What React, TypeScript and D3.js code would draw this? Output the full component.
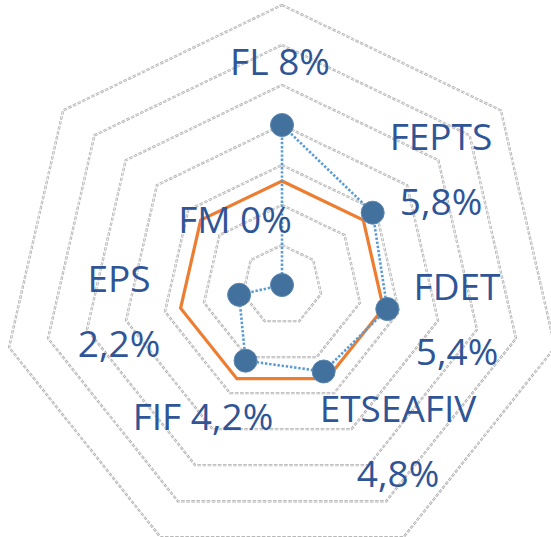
import React from "react";
import * as d3 from "d3";

const categories = ["FL", "FEPTS", "FDET", "ETSEAFIV", "FIF", "EPS", "FM"];
const seriesValues = [8, 5.8, 5.4, 4.8, 4.2, 2.2, 0];
const referenceValues = [5.2, 5.2, 5.2, 5.2, 5.2, 5.2, 5.2];
const valueLabels = ["8%", "5,8%", "5,4%", "4,8%", "4,2%", "2,2%", "0%"];
const gridTicks = [2, 4, 6, 8, 10, 12, 14];
// label layout: two-line or single-line, anchor offset relative to centre
const labelTwoLine = [false, true, true, true, false, true, false];
const labelAnchors: [number, number][] = [
  [-2, -210],
  [159, -135],
  [175, 15],
  [116, 137],
  [-79, 145],
  [-163, 7],
  [-47, -52],
];

const W = 551;
const H = 537;
const cx = 282;
const cy = 285;
const maxR = 280;

export default function App() {
  const r = d3.scaleLinear().domain([0, 14]).range([0, maxR]);
  const n = categories.length;
  const angle = (i: number) => (i * 2 * Math.PI) / n;
  const pt = (i: number, v: number): [number, number] => [
    cx + r(v) * Math.sin(angle(i)),
    cy - r(v) * Math.cos(angle(i)),
  ];
  const line = d3
    .lineRadial<number>()
    .angle((_, i) => angle(i))
    .radius((d) => r(d))
    .curve(d3.curveLinearClosed);

  const gridPath = (t: number) => line(categories.map(() => t)) || "";

  return (
    <svg
      width={W}
      height={H}
      style={{ position: "absolute", left: 0, top: 0, background: "#fff" }}
    >
      <g transform={`translate(${cx},${cy})`}>
        {gridTicks.map((t) => (
          <g key={t}>
            <path
              d={gridPath(t)}
              fill="none"
              stroke="#a9a9a9"
              strokeWidth={2.3}
              strokeDasharray="3.5 1.6"
            />
            <path
              d={gridPath(t)}
              fill="none"
              stroke="#fff"
              strokeWidth={0.8}
              strokeDasharray="3.5 1.6"
            />
          </g>
        ))}
        <path
          d={line(referenceValues) || ""}
          fill="none"
          stroke="#ED7D31"
          strokeWidth={3.2}
          strokeLinejoin="miter"
        />
        <path
          d={line(seriesValues) || ""}
          fill="none"
          stroke="#5B9BD5"
          strokeWidth={2.6}
          strokeDasharray="2.4 1.8"
        />
      </g>
      {seriesValues.map((v, i) => {
        const [x, y] = pt(i, v);
        return (
          <circle
            key={i}
            cx={x}
            cy={y}
            r={11.5}
            fill="#41719C"
            stroke="#5b87b0"
            strokeWidth={1}
          />
        );
      })}
      {categories.map((c, i) => {
        const [dx, dy] = labelAnchors[i];
        const x = cx + dx;
        const y = cy + dy;
        return (
          <text
            key={c}
            x={x}
            y={y}
            textAnchor="middle"
            fontFamily="'Open Sans', sans-serif"
            fontSize={37}
            fill="#2F5597"
          >
            {labelTwoLine[i] ? (
              <>
                <tspan x={x} y={y}>
                  {c}
                </tspan>
                <tspan x={x} y={y + 65}>
                  {valueLabels[i]}
                </tspan>
              </>
            ) : (
              `${c} ${valueLabels[i]}`
            )}
          </text>
        );
      })}
    </svg>
  );
}
